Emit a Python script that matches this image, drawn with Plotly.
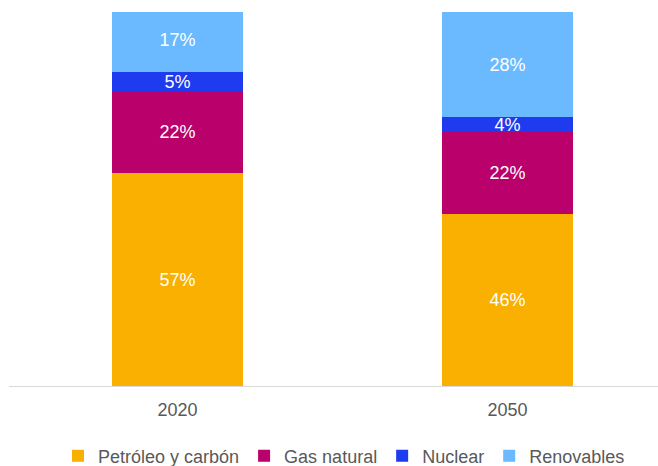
import plotly.graph_objects as go

years = ["2020", "2050"]
series_names = ["Petróleo y carbón", "Gas natural", "Nuclear", "Renovables"]
petroleo = [57, 46]
gas = [22, 22]
nuclear = [5, 4]
renovables = [17, 28]
colors = ["#F9B000", "#BA006A", "#1F3BEF", "#6BBAFF"]

values = [petroleo, gas, nuclear, renovables]

fig = go.Figure()
for name, vals, col in zip(series_names, values, colors):
    fig.add_trace(go.Bar(
        x=years, y=vals, name=name,
        marker=dict(color=col, line=dict(width=0)),
        text=[f"{v}%" for v in vals],
        textposition="inside",
        insidetextanchor="middle",
        constraintext="none",
        textfont=dict(color="white", size=18, family="Liberation Sans, Arial"),
        width=0.397,
    ))

fig.update_layout(
    barmode="stack",
    width=658, height=466,
    margin=dict(l=9, r=0, t=12, b=80, autoexpand=False),
    paper_bgcolor="white", plot_bgcolor="white",
    font=dict(family="Liberation Sans, Arial", size=18, color="#595959"),
    showlegend=True,
    legend=dict(orientation="h", x=0.0755, xanchor="left", y=-0.187, yanchor="middle",
                font=dict(size=18, color="#595959"), traceorder="normal"),
    bargap=0,
)
fig.update_xaxes(range=[-0.5106, 1.456], showline=True, linecolor="#D9D9D9", linewidth=1,
                 ticks="", showgrid=False, ticklabelstandoff=7,
                 tickfont=dict(size=18, color="#595959"))
fig.update_yaxes(range=[0, 100], visible=False, showgrid=False)

fig.write_html("out.html")
